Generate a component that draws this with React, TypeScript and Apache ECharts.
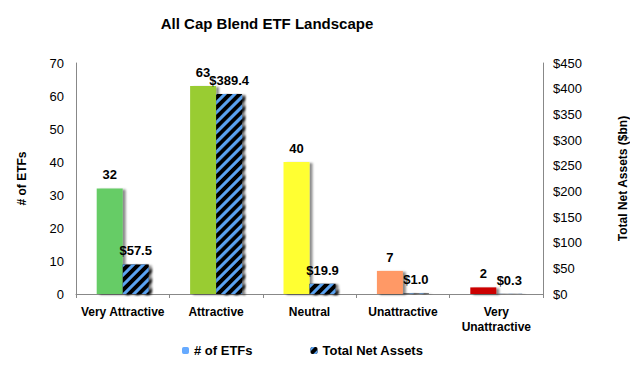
import React, { useEffect, useRef } from "react";
import * as echarts from "echarts";

const categories = ["Very Attractive", "Attractive", "Neutral", "Unattractive", "Very\nUnattractive"];
const etfCounts = [32, 63, 40, 7, 2];
const netAssets = [57.5, 389.4, 19.9, 1.0, 0.3];
const countColors = ["#66CC66", "#99CC33", "#FFFF33", "#FF9966", "#CC0000"];
const FONT = "Liberation Sans, Arial, sans-serif";

export default function App() {
  const ref = useRef<HTMLDivElement>(null);
  useEffect(() => {
    if (!ref.current) return;
    const chart = echarts.init(ref.current, null, { renderer: "svg" });
    const shadow = {
      shadowColor: "rgba(0,0,0,0.45)",
      shadowBlur: 2,
      shadowOffsetX: 3,
      shadowOffsetY: 1,
    };
    chart.setOption({
      animation: false,
      backgroundColor: "#fff",
      textStyle: { fontFamily: FONT },
      title: {
        text: "All Cap Blend ETF Landscape",
        left: 262,
        textAlign: "center",
        top: 11,
        textStyle: { fontSize: 15, fontWeight: "bold", color: "#000", fontFamily: FONT },
      },
      legend: {
        bottom: 7,
        left: 177,
        itemGap: 58,
        itemWidth: 7,
        itemHeight: 7,
        textStyle: { fontSize: 13, fontWeight: "bold", color: "#000", fontFamily: FONT },
        data: ["# of ETFs", "Total Net Assets"],
      },
      grid: { left: 76, right: 87, top: 63, bottom: 75, outerBoundsMode: "none", containLabel: false },
      xAxis: {
        type: "category",
        data: categories,
        axisLine: { lineStyle: { color: "#888" } },
        axisTick: { show: true, length: 4, lineStyle: { color: "#888" } },
        axisLabel: {
          fontSize: 12,
          fontWeight: "bold",
          color: "#000",
          margin: 10,
          lineHeight: 15,
          interval: 0,
          fontFamily: FONT,
        },
      },
      yAxis: [
        {
          type: "value",
          min: 0,
          max: 70,
          interval: 10,
          name: "# of ETFs",
          nameLocation: "middle",
          nameRotate: 90,
          nameGap: 48,
          nameTextStyle: { fontSize: 12, fontWeight: "bold", color: "#000", fontFamily: FONT },
          axisLine: { show: true, lineStyle: { color: "#888" } },
          axisTick: { show: false },
          splitLine: { show: false },
          axisLabel: { fontSize: 13, color: "#000", margin: 12, fontFamily: FONT },
        },
        {
          type: "value",
          min: 0,
          max: 450,
          interval: 50,
          position: "right",
          name: "Total Net Assets ($bn)",
          nameLocation: "middle",
          nameRotate: 90,
          nameGap: 74,
          nameTextStyle: { fontSize: 12, fontWeight: "bold", color: "#000", fontFamily: FONT },
          axisLine: { show: true, lineStyle: { color: "#888" } },
          axisTick: { show: false },
          splitLine: { show: false },
          axisLabel: { fontSize: 13, color: "#000", margin: 10, formatter: "${value}", fontFamily: FONT },
        },
      ],
      series: [
        {
          name: "# of ETFs",
          type: "bar",
          yAxisIndex: 0,
          barWidth: 26,
          barGap: "0%",
          itemStyle: { color: "#66AAFF", ...shadow },
          data: etfCounts.map((v, i) => ({ value: v, itemStyle: { color: countColors[i] } })),
          label: {
            show: true,
            position: "top",
            distance: 7,
            fontSize: 13,
            fontWeight: "bold",
            color: "#000",
            fontFamily: FONT,
          },
        },
        {
          name: "Total Net Assets",
          type: "bar",
          yAxisIndex: 1,
          barWidth: 26,
          itemStyle: {
            color: "#000",
            ...shadow,
            decal: {
              symbol: "rect",
              symbolSize: 1,
              color: "#5AA2F0",
              backgroundColor: "#000",
              dashArrayX: [1, 0],
              dashArrayY: [3, 4],
              rotation: -Math.PI / 4,
            },
          },
          data: netAssets,
          label: {
            show: true,
            position: "top",
            distance: 7,
            fontSize: 13,
            fontWeight: "bold",
            color: "#000",
            fontFamily: FONT,
            formatter: (p: any) => "$" + Number(p.value).toFixed(1),
          },
        },
      ],
    });
    return () => chart.dispose();
  }, []);
  return (
    <div
      ref={ref}
      style={{ position: "fixed", left: 0, top: 0, width: 630, height: 369 }}
    />
  );
}
